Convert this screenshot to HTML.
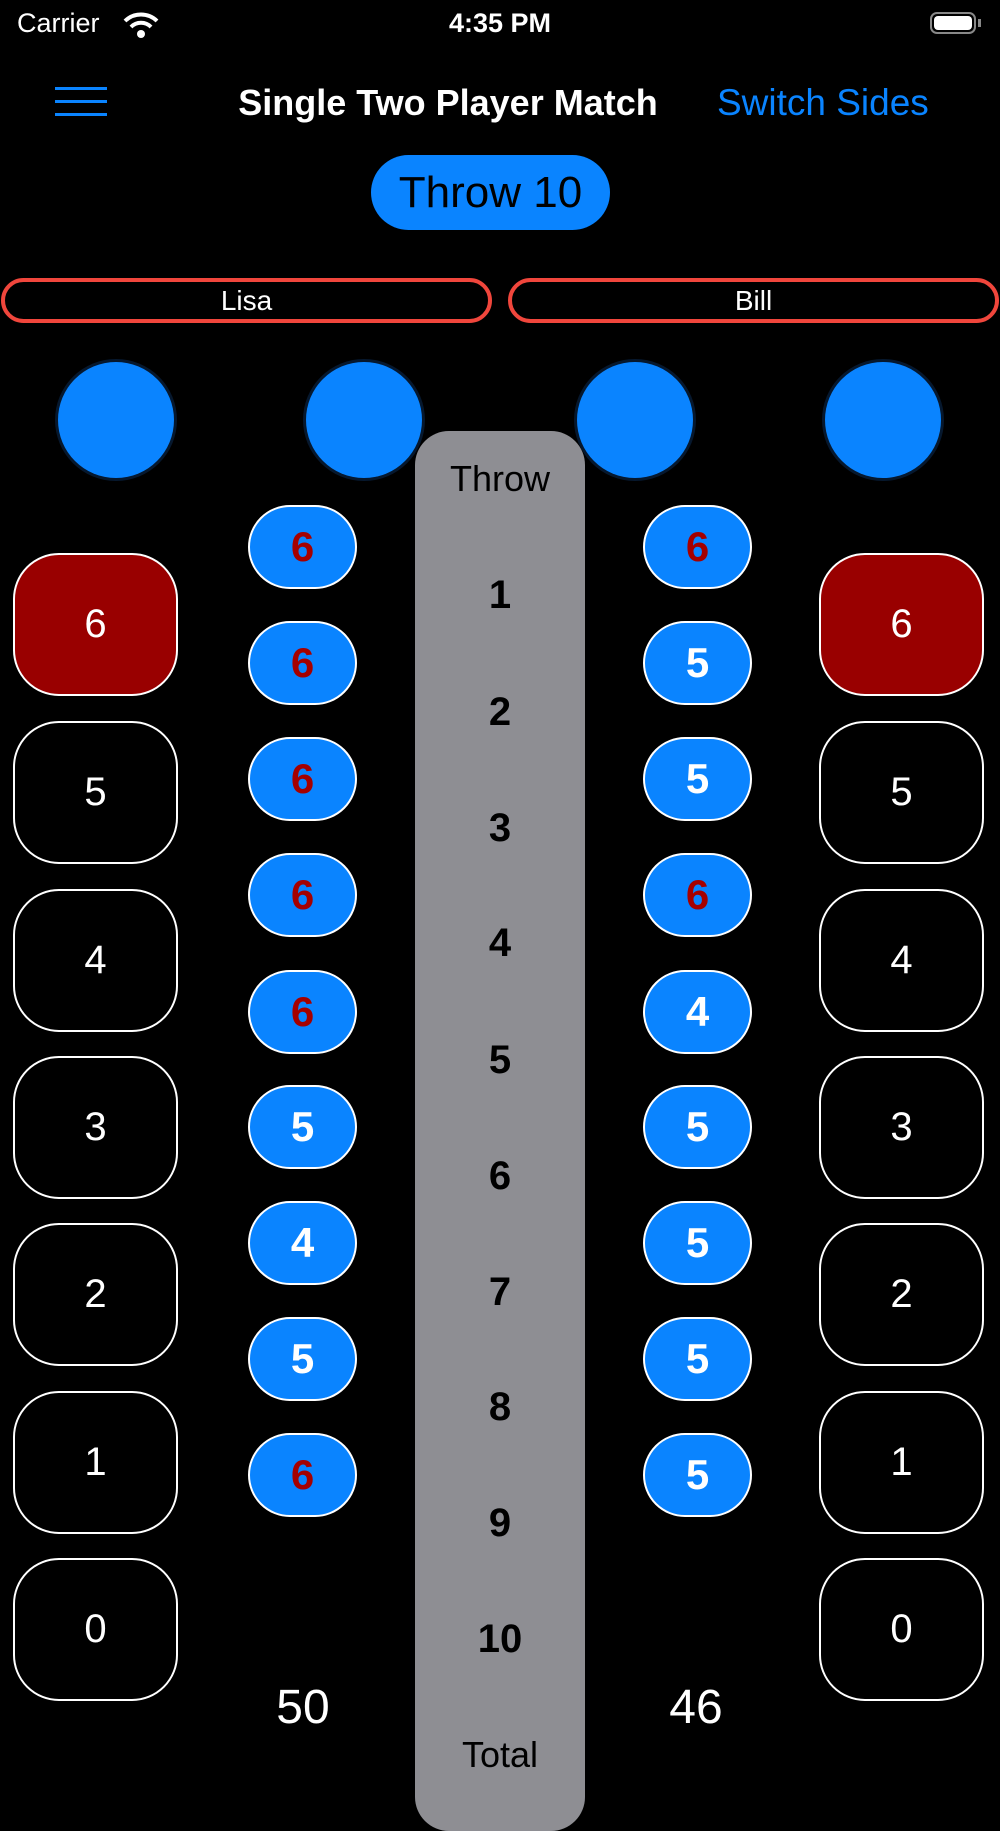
<!DOCTYPE html>
<html><head><style>
body{margin:0;width:1000px;height:1778px;background:#000;position:relative;overflow:hidden;font-family:"Liberation Sans",sans-serif;color:#fff}
.a{position:absolute}
.c{display:flex;align-items:center;justify-content:center}
.btn{position:absolute;width:165px;height:143px;border:2px solid #fff;border-radius:46px;box-sizing:border-box;font-size:40px;display:flex;align-items:center;justify-content:center}
.red{background:#990000}
.p{position:absolute;width:109px;height:84px;border:2px solid #fff;border-radius:42px;box-sizing:border-box;background:#0a84ff;font-size:42px;font-weight:bold;display:flex;align-items:center;justify-content:center}
.r{color:#a50000}
.cir{position:absolute;width:116px;height:116px;border-radius:50%;background:#0a84ff;box-shadow:0 0 0 3px #06182e}
.n{position:absolute;left:415px;width:170px;text-align:center;color:#000;font-weight:bold;font-size:40px}
</style></head><body>
<div class="a" style="left:17px;top:8px;font-size:27px">Carrier</div>
<svg class="a" style="left:123px;top:10px" width="36" height="30" viewBox="0 0 36 30"><path d="M2 11 A23 23 0 0 1 34 11" stroke="#fff" stroke-width="4" fill="none"/><path d="M8 17 A14 14 0 0 1 28 17" stroke="#fff" stroke-width="4" fill="none"/><circle cx="18" cy="24" r="4" fill="#fff"/></svg>
<div class="a" style="left:0;width:1000px;text-align:center;top:8px;font-size:27px;font-weight:bold">4:35 PM</div>
<div class="a" style="left:930px;top:12px;width:46px;height:22px;border:2px solid #888;border-radius:7px;box-sizing:border-box;padding:2px"><div style="background:#fff;width:100%;height:100%;border-radius:4px"></div></div>
<div class="a" style="left:978px;top:19px;width:3px;height:8px;background:#888"></div>
<div class="a" style="left:55px;top:87px;width:52px;height:3px;background:#0a84ff"></div>
<div class="a" style="left:55px;top:100px;width:52px;height:3px;background:#0a84ff"></div>
<div class="a" style="left:55px;top:113px;width:52px;height:3px;background:#0a84ff"></div>
<div class="a" style="left:200px;width:496px;text-align:center;top:82px;font-size:36px;font-weight:bold">Single Two Player Match</div>
<div class="a" style="left:717px;top:82px;font-size:37px;color:#0a84ff">Switch Sides</div>
<div class="a c" style="left:371px;top:155px;width:239px;height:75px;border-radius:38px;background:#0a84ff;color:#000;font-size:44px">Throw 10</div>
<div class="a c" style="left:1px;top:278px;width:491px;height:45px;border:4px solid #f0463c;border-radius:23px;box-sizing:border-box;font-size:28px">Lisa</div>
<div class="a c" style="left:508px;top:278px;width:491px;height:45px;border:4px solid #f0463c;border-radius:23px;box-sizing:border-box;font-size:28px">Bill</div>
<div class="cir" style="left:58px;top:362px"></div>
<div class="cir" style="left:306px;top:362px"></div>
<div class="cir" style="left:577px;top:362px"></div>
<div class="cir" style="left:825px;top:362px"></div>
<div class="a" style="left:415px;top:431px;width:170px;height:1400px;background:#8e8e93;border-radius:34px"></div>
<div class="n" style="top:458px;font-weight:normal;font-size:36px">Throw</div>
<div class="n" style="top:573px">1</div>
<div class="n" style="top:690px">2</div>
<div class="n" style="top:806px">3</div>
<div class="n" style="top:921px">4</div>
<div class="n" style="top:1038px">5</div>
<div class="n" style="top:1154px">6</div>
<div class="n" style="top:1270px">7</div>
<div class="n" style="top:1385px">8</div>
<div class="n" style="top:1501px">9</div>
<div class="n" style="top:1617px">10</div>
<div class="n" style="top:1734px;font-weight:normal;font-size:36px">Total</div>

<div class="btn red" style="left:13px;top:553px">6</div>
<div class="btn" style="left:13px;top:721px">5</div>
<div class="btn" style="left:13px;top:889px">4</div>
<div class="btn" style="left:13px;top:1056px">3</div>
<div class="btn" style="left:13px;top:1223px">2</div>
<div class="btn" style="left:13px;top:1391px">1</div>
<div class="btn" style="left:13px;top:1558px">0</div>
<div class="btn red" style="left:819px;top:553px">6</div>
<div class="btn" style="left:819px;top:721px">5</div>
<div class="btn" style="left:819px;top:889px">4</div>
<div class="btn" style="left:819px;top:1056px">3</div>
<div class="btn" style="left:819px;top:1223px">2</div>
<div class="btn" style="left:819px;top:1391px">1</div>
<div class="btn" style="left:819px;top:1558px">0</div>

<div class="p r" style="left:248px;top:505px">6</div>
<div class="p r" style="left:248px;top:621px">6</div>
<div class="p r" style="left:248px;top:737px">6</div>
<div class="p r" style="left:248px;top:853px">6</div>
<div class="p r" style="left:248px;top:970px">6</div>
<div class="p" style="left:248px;top:1085px">5</div>
<div class="p" style="left:248px;top:1201px">4</div>
<div class="p" style="left:248px;top:1317px">5</div>
<div class="p r" style="left:248px;top:1433px">6</div>
<div class="p r" style="left:643px;top:505px">6</div>
<div class="p" style="left:643px;top:621px">5</div>
<div class="p" style="left:643px;top:737px">5</div>
<div class="p r" style="left:643px;top:853px">6</div>
<div class="p" style="left:643px;top:970px">4</div>
<div class="p" style="left:643px;top:1085px">5</div>
<div class="p" style="left:643px;top:1201px">5</div>
<div class="p" style="left:643px;top:1317px">5</div>
<div class="p" style="left:643px;top:1433px">5</div>

<div class="a" style="left:233px;width:140px;text-align:center;top:1680px;font-size:48px">50</div>
<div class="a" style="left:626px;width:140px;text-align:center;top:1680px;font-size:48px">46</div>
</body></html>
